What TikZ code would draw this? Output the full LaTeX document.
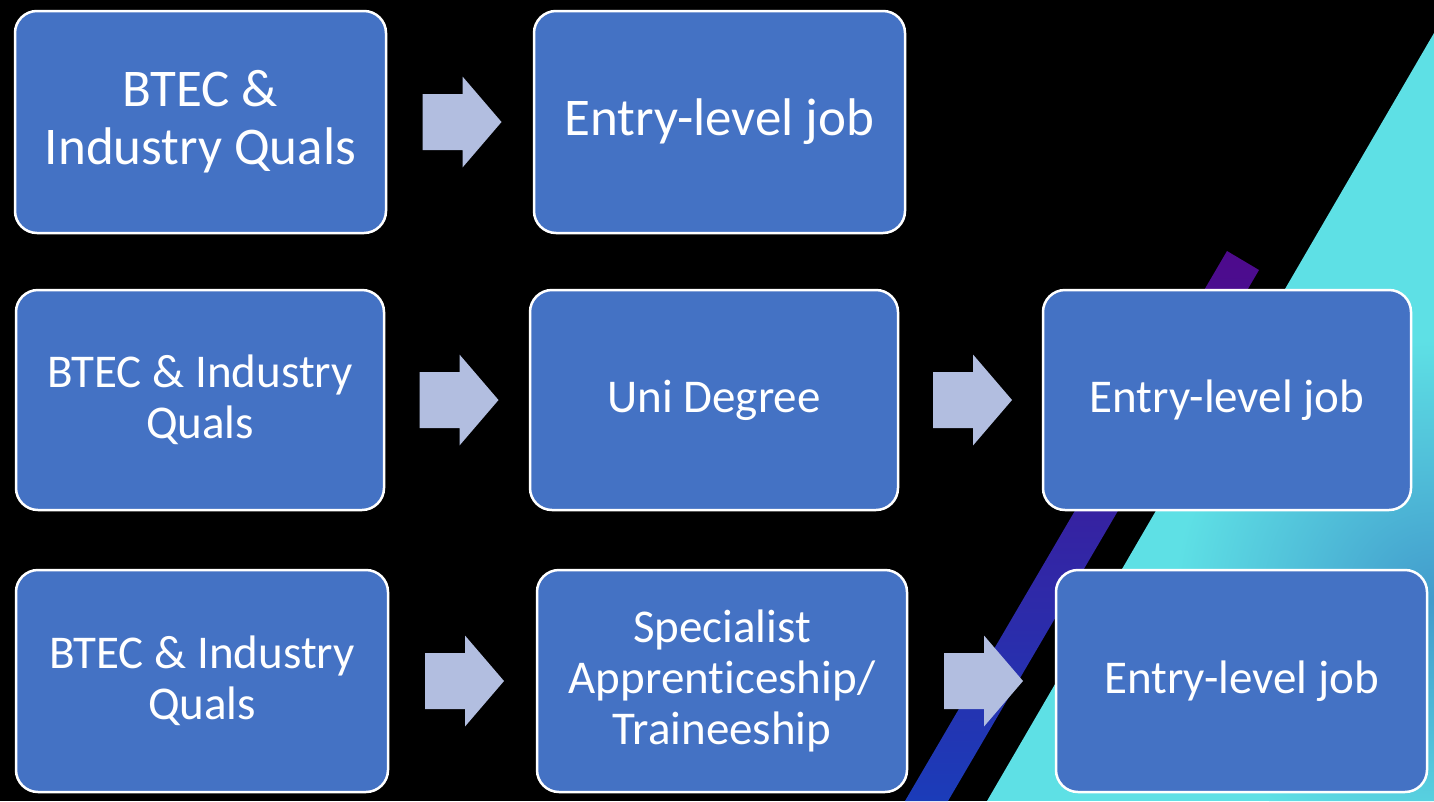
\documentclass[tikz,border=0pt]{standalone}
\usepackage{fontspec}
\setmainfont{Carlito}[Ligatures=NoCommon]
\usetikzlibrary{calc}
\definecolor{boxblue}{RGB}{68,114,196}
\definecolor{arrowcol}{RGB}{178,190,224}
\definecolor{cyanbg}{RGB}{94,224,229}
\definecolor{deepcyan}{RGB}{66,155,204}
\definecolor{stripetop}{RGB}{78,10,140}
\definecolor{stripebot}{RGB}{27,60,185}
\tikzset{
  box/.style={draw=white, line width=2.5pt, fill=boxblue, rounded corners=22pt,
    text=white, align=center, inner sep=0pt},
  bigtext/.style={font=\fontsize{53}{58}\selectfont},
  midtext/.style={font=\fontsize{47}{51}\selectfont},
  blockarrow/.pic={\fill[arrowcol] (-39.5,-28) -- (0.5,-28) -- (0.5,-45.5) -- (39.5,0)
     -- (0.5,45.5) -- (0.5,28) -- (-39.5,28) -- cycle;}
}
\begin{document}
\begin{tikzpicture}[x=1pt,y=-1pt]
\useasboundingbox (0,0) rectangle (1434,801);
\fill[black] (0,0) rectangle (1434,801);
% cyan triangle
\begin{scope}
  \clip (1434,33) -- (987,801) -- (1434,801) -- cycle;
  \fill[cyanbg] (960,0) rectangle (1434,801);
  \shade[inner color=deepcyan, outer color=cyanbg] (1434,600) circle (260);
\end{scope}
% diagonal stripe
\shade[top color=stripetop, bottom color=stripebot]
  (1227,251) -- (1259,270) -- (948,801) -- (905,801) -- cycle;

% row 1
\node[box, bigtext, minimum width=371pt, minimum height=222pt] (a1) at (200.5,122) {BTEC \&\\Industry Quals};
\node[box, bigtext, minimum width=371pt, minimum height=222pt] (a2) at (719.5,122) {Entry-level job};
% row 2
\node[box, midtext, minimum width=368pt, minimum height=220pt] (b1) at (200,400) {BTEC \& Industry\\Quals};
\node[box, midtext, minimum width=368pt, minimum height=220pt] (b2) at (714,400) {Uni Degree};
\node[box, midtext, minimum width=368pt, minimum height=220pt] (b3) at (1227,400) {Entry-level job};
% row 3
\node[box, midtext, minimum width=372pt, minimum height=222pt] (c1) at (202,681) {BTEC \& Industry\\Quals};
\node[box, midtext, minimum width=370pt, minimum height=222pt] (c2) at (722,681) {Specialist\\Apprenticeship/\\Traineeship};
\node[box, midtext, minimum width=371pt, minimum height=222pt] (c3) at (1241.5,681) {Entry-level job};

% block arrows
\coordinate (ar1) at ($(a1.east)!0.5!(a2.west)+(2,0)$);
\coordinate (ar2) at ($(b1.east)!0.5!(b2.west)+(2,0)$);
\coordinate (ar3) at ($(b2.east)!0.5!(b3.west)+(2,0)$);
\coordinate (ar4) at ($(c1.east)!0.5!(c2.west)+(2,0)$);
\coordinate (ar5) at ($(c2.east)!0.5!(c3.west)+(2,0)$);
\foreach \c in {ar1,ar2,ar3,ar4,ar5} \path (\c) pic {blockarrow};
\end{tikzpicture}
\end{document}
